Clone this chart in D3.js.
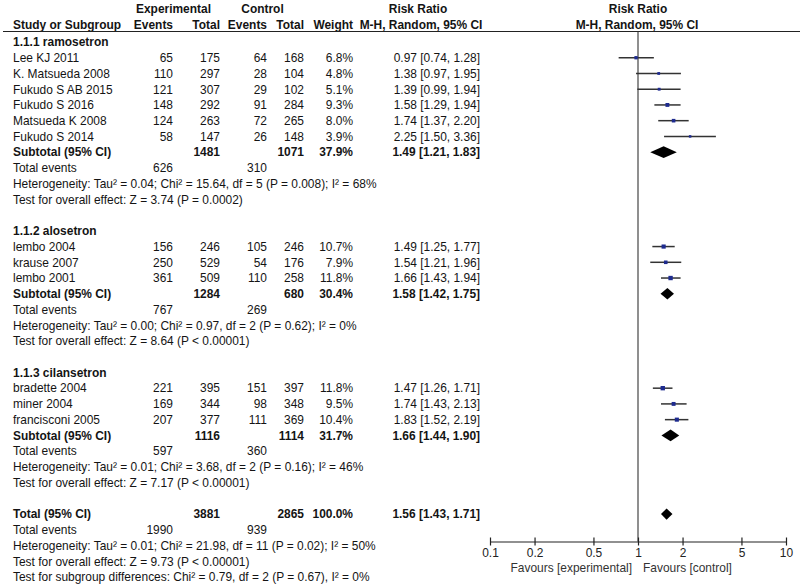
<!DOCTYPE html>
<html><head><meta charset="utf-8">
<script src="https://cdn.jsdelivr.net/npm/d3@7"></script>
<style>
body{margin:0;background:#fff}
text{font-family:"Liberation Sans",Arial,sans-serif;fill:#141414}
</style>
</head><body>
<svg id="c" width="800" height="585"></svg>
<script>
// ---------- data ----------
const studies = ["Lee KJ 2011","K. Matsueda 2008","Fukudo S AB 2015","Fukudo S 2016","Matsueda K 2008","Fukudo S 2014","lembo 2004","krause 2007","lembo 2001","bradette 2004","miner 2004","francisconi 2005"];
const studyGroup = [0,0,0,0,0,0,1,1,1,2,2,2];
const expEvents = [65,110,121,148,124,58,156,250,361,221,169,207];
const expTotal  = [175,297,307,292,263,147,246,529,509,395,344,377];
const ctlEvents = [64,28,29,91,72,26,105,54,110,151,98,111];
const ctlTotal  = [168,104,102,284,265,148,246,176,258,397,348,369];
const weights   = [6.8,4.8,5.1,9.3,8.0,3.9,10.7,7.9,11.8,11.8,9.5,10.4];
const rr        = [0.97,1.38,1.39,1.58,1.74,2.25,1.49,1.54,1.66,1.47,1.74,1.83];
const rrLo      = [0.74,0.97,0.99,1.29,1.37,1.50,1.25,1.21,1.43,1.26,1.43,1.52];
const rrHi      = [1.28,1.95,1.94,1.94,2.20,3.36,1.77,1.96,1.94,1.71,2.13,2.19];

const groups = ["1.1.1 ramosetron","1.1.2 alosetron","1.1.3 cilansetron"];
const groupExpTotal  = [1481,1284,1116];
const groupCtlTotal  = [1071,680,1114];
const groupWeight    = [37.9,30.4,31.7];
const groupRR        = [1.49,1.58,1.66];
const groupLo        = [1.21,1.42,1.44];
const groupHi        = [1.83,1.75,1.90];
const groupExpEvents = [626,767,597];
const groupCtlEvents = [310,269,360];
const groupHet = [
  "Heterogeneity: Tau² = 0.04; Chi² = 15.64, df = 5 (P = 0.008); I² = 68%",
  "Heterogeneity: Tau² = 0.00; Chi² = 0.97, df = 2 (P = 0.62); I² = 0%",
  "Heterogeneity: Tau² = 0.01; Chi² = 3.68, df = 2 (P = 0.16); I² = 46%"
];
const groupTest = [
  "Test for overall effect: Z = 3.74 (P = 0.0002)",
  "Test for overall effect: Z = 8.64 (P < 0.00001)",
  "Test for overall effect: Z = 7.17 (P < 0.00001)"
];

const totalExpTotal = 3881, totalCtlTotal = 2865, totalWeight = 100.0;
const totalRR = 1.56, totalLo = 1.43, totalHi = 1.71;
const totalExpEvents = 1990, totalCtlEvents = 939;
const totalHet = "Heterogeneity: Tau² = 0.01; Chi² = 21.98, df = 11 (P = 0.02); I² = 50%";
const totalTest = "Test for overall effect: Z = 9.73 (P < 0.00001)";
const subgroupTest = "Test for subgroup differences: Chi² = 0.79, df = 2 (P = 0.67), I² = 0%";

const axisTicks = [0.1,0.2,0.5,1,2,5,10];
const favourLeft = "Favours [experimental]";
const favourRight = "Favours [control]";

// ---------- layout ----------
const FS = 11.95;
const svg = d3.select("#c");
const col = {study:13, expEv:173, expTot:220, ctlEv:267, ctlTot:304, weight:353, ci:480};
const fmt2 = d3.format(".2f");
const fmtW = d => d3.format(".1f")(d) + "%";
const ciText = (m,l,h) => `${fmt2(m)} [${fmt2(l)}, ${fmt2(h)}]`;

// Build rows
const rows = [];
groups.forEach((g, gi) => {
  rows.push({type:"group", label:g});
  studies.forEach((s, i) => {
    if (studyGroup[i] === gi) rows.push({type:"study", i});
  });
  rows.push({type:"subtotal", gi});
  rows.push({type:"events", e:groupExpEvents[gi], c:groupCtlEvents[gi]});
  rows.push({type:"note", label:groupHet[gi]});
  rows.push({type:"note", label:groupTest[gi]});
  rows.push({type:"blank"});
});
rows.push({type:"total"});
rows.push({type:"events", e:totalExpEvents, c:totalCtlEvents});
rows.push({type:"note", label:totalHet});
rows.push({type:"note", label:totalTest});
rows.push({type:"note", label:subgroupTest});

const y = d3.scaleLinear().domain([0, rows.length-1]).range([42, 577]);
const x = d3.scaleLog().domain([0.1, 10]).range([490, 786]);
const wSize = d3.scaleSqrt().domain([0, 12]).range([0, 4.4]);

function txt(xp, yp, s, opt={}) {
  svg.append("text").attr("x", xp).attr("y", yp + 4.3)
    .attr("font-size", opt.fs || FS)
    .attr("font-weight", opt.bold ? "bold" : null)
    .attr("text-anchor", opt.anchor || "start")
    .style("fill", opt.fill || null)
    .text(s);
}

// Header
txt(173.5, 8.5, "Experimental", {bold:true, anchor:"middle"});
txt(262.5, 8.5, "Control", {bold:true, anchor:"middle"});
txt(418, 8.5, "Risk Ratio", {bold:true, anchor:"middle"});
txt(638, 8.5, "Risk Ratio", {bold:true, anchor:"middle"});
txt(col.study, 24.5, "Study or Subgroup", {bold:true});
txt(col.expEv, 24.5, "Events", {bold:true, anchor:"end"});
txt(col.expTot, 24.5, "Total", {bold:true, anchor:"end"});
txt(col.ctlEv, 24.5, "Events", {bold:true, anchor:"end"});
txt(col.ctlTot, 24.5, "Total", {bold:true, anchor:"end"});
txt(col.weight, 24.5, "Weight", {bold:true, anchor:"end"});
txt(421, 24.5, "M-H, Random, 95% CI", {bold:true, anchor:"middle"});
txt(637, 24.5, "M-H, Random, 95% CI", {bold:true, anchor:"middle"});

svg.append("line").attr("x1", 3).attr("x2", 800).attr("y1", 31.5).attr("y2", 31.5)
  .attr("stroke", "#222").attr("stroke-width", 1.2);

// Axis
const axisY = 541.5;
svg.append("line").attr("x1", x(1)).attr("x2", x(1)).attr("y1", 31.5).attr("y2", axisY)
  .attr("stroke", "#333").attr("stroke-width", 1.1);

const axisG = svg.append("g").attr("transform", `translate(0,${axisY})`)
  .call(d3.axisBottom(x).tickValues(axisTicks).tickFormat(d => String(d)).tickSizeOuter(0).tickSizeInner(4).tickPadding(4));
axisG.select(".domain").attr("stroke", "#222").attr("stroke-width", 1.2);
axisG.selectAll(".tick line").attr("y1", -4).attr("y2", 4).attr("stroke", "#222").attr("stroke-width", 1.2);
axisG.selectAll(".tick text").attr("font-size", FS).attr("font-family", '"Liberation Sans",Arial,sans-serif').style("fill", "#222").attr("y", 7);
txt(632, 568, favourLeft, {anchor:"end", fill:"#333"});
txt(643, 568, favourRight, {anchor:"start", fill:"#333"});

// Diamond helper
function diamond(m, l, h, yc, hh) {
  const pts = [[x(l), yc], [x(m), yc-hh], [x(h), yc], [x(m), yc+hh]];
  svg.append("path").attr("d", d3.line()(pts) + "Z").attr("fill", "#000");
}

rows.forEach((r, k) => {
  const yc = y(k);
  if (r.type === "group") {
    txt(col.study, yc, r.label, {bold:true});
  } else if (r.type === "study") {
    const i = r.i;
    txt(col.study, yc, studies[i]);
    txt(col.expEv, yc, expEvents[i], {anchor:"end"});
    txt(col.expTot, yc, expTotal[i], {anchor:"end"});
    txt(col.ctlEv, yc, ctlEvents[i], {anchor:"end"});
    txt(col.ctlTot, yc, ctlTotal[i], {anchor:"end"});
    txt(col.weight, yc, fmtW(weights[i]), {anchor:"end"});
    txt(col.ci, yc, ciText(rr[i], rrLo[i], rrHi[i]), {anchor:"end"});
    svg.append("line").attr("x1", x(rrLo[i])).attr("x2", x(rrHi[i]))
      .attr("y1", yc).attr("y2", yc).attr("stroke", "#333").attr("stroke-width", 1.5);
    const s = wSize(weights[i]);
    svg.append("rect").attr("x", x(rr[i]) - s/2).attr("y", yc - s/2)
      .attr("width", s).attr("height", s).attr("fill", "#1e2b8f");
  } else if (r.type === "subtotal") {
    const gi = r.gi;
    txt(col.study, yc, "Subtotal (95% CI)", {bold:true});
    txt(col.expTot, yc, groupExpTotal[gi], {bold:true, anchor:"end"});
    txt(col.ctlTot, yc, groupCtlTotal[gi], {bold:true, anchor:"end"});
    txt(col.weight, yc, fmtW(groupWeight[gi]), {bold:true, anchor:"end"});
    txt(col.ci, yc, ciText(groupRR[gi], groupLo[gi], groupHi[gi]), {bold:true, anchor:"end"});
    diamond(groupRR[gi], groupLo[gi], groupHi[gi], yc, 5.8);
  } else if (r.type === "total") {
    txt(col.study, yc, "Total (95% CI)", {bold:true});
    txt(col.expTot, yc, totalExpTotal, {bold:true, anchor:"end"});
    txt(col.ctlTot, yc, totalCtlTotal, {bold:true, anchor:"end"});
    txt(col.weight, yc, fmtW(totalWeight), {bold:true, anchor:"end"});
    txt(col.ci, yc, ciText(totalRR, totalLo, totalHi), {bold:true, anchor:"end"});
    diamond(totalRR, totalLo, totalHi, yc, 5.6);
  } else if (r.type === "events") {
    txt(col.study, yc, "Total events");
    txt(col.expEv, yc, r.e, {anchor:"end"});
    txt(col.ctlEv, yc, r.c, {anchor:"end"});
  } else if (r.type === "note") {
    txt(col.study, yc, r.label);
  }
});
</script>
</body></html>
